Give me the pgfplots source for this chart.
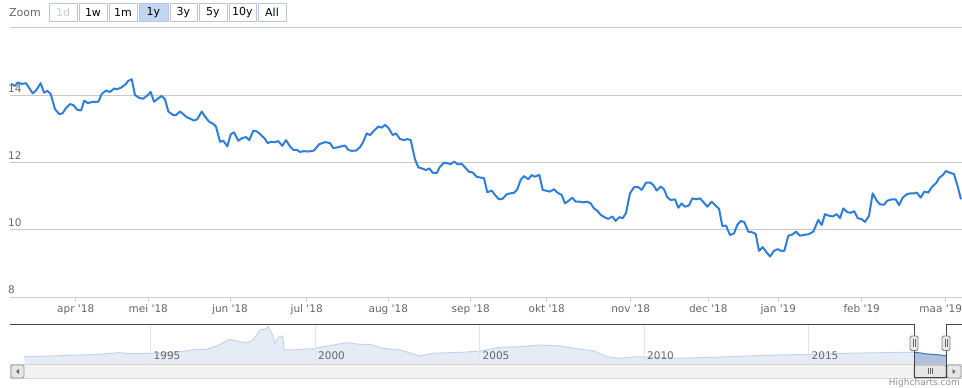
\documentclass[border=0pt]{standalone}
\usepackage{pgfplots}
\usepackage{pgfplotstable}
\pgfplotsset{compat=1.18}
\usepackage{fontspec}
\setmainfont{DejaVu Sans}
\definecolor{hcline}{HTML}{2F7ED8}
\definecolor{hcgrid}{HTML}{C8C8C8}
\definecolor{hcaxis}{HTML}{C0D0E0}
\definecolor{hctext}{HTML}{666666}
\definecolor{navfill}{HTML}{E6ECF5}
\definecolor{navline}{HTML}{C6D3E7}
\definecolor{selfill}{HTML}{AFC1DD}
\definecolor{selline}{HTML}{4572A7}
\definecolor{btnborder}{HTML}{B8C6DA}
\definecolor{btnsel}{HTML}{C3D6F0}
\definecolor{navgrid}{HTML}{E4E4E4}
\definecolor{outl}{HTML}{444444}
\definecolor{credit}{HTML}{909090}
\definecolor{disabled}{HTML}{CCCCCC}
\definecolor{trackdraw}{HTML}{D4D4D4}
\definecolor{trackfill}{HTML}{F3F3F3}
\definecolor{btndraw}{HTML}{999999}
\definecolor{btnfill}{HTML}{E6E6E6}
\definecolor{arrowc}{HTML}{666666}
\definecolor{handledraw}{HTML}{808080}
\definecolor{handlefill}{HTML}{EBE7E8}
\newcommand\q{\textquotesingle}

% main series: x = position on the (ordinal) time axis, y = price
\pgfplotstableread{
x v
11 14.34
15 14.28
17.7 14.38
21.7 14.34
26 14.36
29.3 14.21
32.7 14.06
36 14.14
40.7 14.36
44 14.08
47.3 14.13
50.7 14.04
55 13.59
59.3 13.44
62.7 13.47
66 13.62
70 13.74
73.3 13.71
77.3 13.57
81 13.55
84.3 13.84
87.7 13.77
91.7 13.80
98.3 13.81
101.7 14.04
106 14.14
110 14.10
114 14.20
117.3 14.18
121.7 14.24
126 14.34
128.3 14.43
131.7 14.48
135 14.01
139.3 13.92
143.3 13.90
146.7 13.98
150.7 14.10
154 13.81
158.3 13.91
161.7 13.98
165 13.88
168.3 13.52
172.7 13.42
176 13.41
180 13.52
184 13.42
187.3 13.34
190.7 13.30
194 13.25
197.3 13.29
201.7 13.52
205 13.37
209 13.22
213.3 13.15
216 13.07
220 12.62
223.3 12.65
227.3 12.48
230.7 12.84
234 12.90
238.3 12.65
242.3 12.73
246 12.76
249.3 12.67
253.3 12.95
256.7 12.93
260.7 12.83
264.3 12.73
267.7 12.58
271 12.62
275 12.61
278.3 12.64
282.3 12.50
286 12.67
290 12.48
293.3 12.38
296.7 12.38
300 12.32
304 12.34
308.3 12.33
314 12.36
319.3 12.55
325 12.61
330 12.58
333.3 12.43
338.3 12.46
345 12.51
348.3 12.38
351.7 12.35
356 12.36
360 12.46
363.3 12.62
366.7 12.87
370 12.82
374 12.95
378.3 13.07
381.7 13.04
385 13.12
388.3 13.04
392.7 12.82
396 12.87
400 12.70
404 12.67
407.3 12.70
410.7 12.67
415 12.10
418.3 11.86
421.7 11.83
426 11.78
429.3 11.83
432.7 11.70
436.7 11.69
440 11.88
444 12.00
447.3 11.98
450.7 11.96
454.3 12.03
457.7 11.95
461.7 11.96
465 11.86
469 11.73
472.7 11.71
476.7 11.58
481.7 11.55
484 11.54
487.3 11.12
491.7 11.17
495 11.04
499 10.91
502.7 10.93
506.7 11.06
510.7 11.09
514 11.10
517.3 11.21
520.7 11.49
524 11.60
528.3 11.51
531.7 11.63
535 11.58
539.3 11.64
542.7 11.19
550 11.14
554 11.21
557.3 11.11
561.7 11.04
565 10.79
568.3 10.86
572.3 10.96
575.7 10.84
580 10.84
583.3 10.82
587.3 10.84
590.7 10.79
594 10.64
597.3 10.57
600.7 10.45
605 10.37
608.3 10.33
612.3 10.40
615.7 10.27
619.3 10.38
622.7 10.35
626 10.50
630 11.09
634 11.27
638.3 11.27
641.7 11.19
646 11.41
650 11.41
653.3 11.34
656.7 11.17
660.7 11.29
664 11.21
667.3 10.97
670.7 10.89
675 10.91
678.3 10.66
681.7 10.79
685 10.69
689 10.73
692.3 10.94
696 10.91
700 10.94
704 10.81
707.3 10.69
711.7 10.84
715 10.74
719 10.63
722.3 10.12
726 10.13
730 9.85
734 9.90
737.3 10.15
740.7 10.27
744.3 10.23
748.3 9.95
752.3 9.93
755.7 9.88
759 9.38
762.7 9.49
766.7 9.33
770 9.21
774 9.38
777.7 9.43
781 9.38
784.3 9.38
788.3 9.83
792.7 9.87
796 9.95
800 9.83
805 9.86
808.3 9.87
813.3 9.95
818.3 10.30
821.7 10.15
825 10.47
829.3 10.42
832.7 10.40
836.7 10.47
840 10.35
843.3 10.64
847.3 10.53
850.7 10.51
854.3 10.56
857.7 10.35
861.7 10.32
865 10.24
869 10.42
872.7 11.09
876.7 10.87
880 10.76
884 10.75
887.3 10.87
891.7 10.91
895.7 10.91
899 10.74
902.7 10.96
906.7 11.06
910.7 11.09
914.3 11.09
916.7 11.11
920.7 10.96
924.3 11.14
928.3 11.11
931.7 11.27
936 11.39
939.3 11.55
942.7 11.63
946 11.75
950 11.70
954 11.66
957.7 11.29
961 10.91
}\mainseries

% navigator: full history
\pgfplotstableread{
x v
24.3 9.8
50 10.5
83.3 11.5
100 12.2
118.3 13.8
133.3 12.8
150 13.2
166.7 13.8
183.3 15.2
196.7 17.2
206.7 17.2
216.7 20.5
230 27.2
238.3 24.8
246.7 23.8
253.3 26.5
260 36.5
265 37.2
268.3 39.8
271.7 33.8
275 23.2
278.3 29.2
282.7 30.5
284 16.5
293.3 16.5
303.3 17.2
313.3 17.8
323.3 19.8
333.3 21.5
346.7 23.8
360 22.2
370 22.2
383.3 18.2
400 16.5
420 10.5
433.3 13.2
450 13.8
466.7 14.5
480 15.5
500 19.2
520 19.8
540 21.5
560 20.5
580 17.2
593.3 15.8
606.7 9.8
620 8.2
636.7 9.8
653.3 9.2
680 8.2
713.3 9.2
746.7 10.5
780 11.5
813.3 12.2
846.7 13.2
880 13.8
914 14.3
926.7 12.5
946 10.8
}\navseries

\pgfplotstableread{
x v
914 14.3
920 13.6
926.7 12.5
936 11.9
946 10.8
}\navsel

\begin{document}
\begin{tikzpicture}
\useasboundingbox (0,0) rectangle (962pt,388pt);

% ---------- main chart ----------
\begin{axis}[
  at={(10pt,90.7pt)}, anchor=south west,
  scale only axis, width=952pt, height=269.3pt,
  xmin=10, xmax=962, ymin=8, ymax=16,
  axis line style={draw=none},
  ytick={8,10,12,14,16}, yticklabels={8,10,12,14,{}},
  ymajorgrids, grid style={hcgrid, line width=1pt},
  xtick={75.7,148.3,230,306.7,388.3,470.7,546.7,630.7,708.3,778.3,861.7,945.7},
  xticklabels={apr \q18,mei \q18,jun \q18,jul \q18,aug \q18,sep \q18,okt \q18,nov \q18,dec \q18,jan \q19,feb \q19,{maa \q19\kern10pt}},
  xtick pos=left, ytick pos=left, tick align=outside,
  x tick style={hcaxis, line width=1pt}, major tick length=5pt,
  y tick style={draw=none},
  ticklabel style={font=\fontsize{10.5}{12}\selectfont, text=hctext},
  yticklabel style={anchor=south west, inner sep=0pt, xshift=3pt, yshift=3pt},
  xticklabel style={anchor=north, inner sep=0pt, yshift=-2pt},
  /pgf/number format/assume math mode=true,
]
\addplot[hcline, line width=2pt, line join=round] table[x=x,y=v] {\mainseries};
\end{axis}

% ---------- navigator ----------
\begin{axis}[
  at={(10pt,24pt)}, anchor=south west,
  scale only axis, width=952pt, height=40pt,
  xmin=10, xmax=962, ymin=2.5, ymax=42.5,
  axis on top,
  axis line style={draw=none},
  ytick=\empty,
  xtick={150.5,315,479.5,644,808.5},
  xticklabels={1995,2000,2005,2010,2015},
  xtick pos=left, major tick length=0pt,
  xmajorgrids, grid style={navgrid, line width=1pt},
  xticklabel style={anchor=south west, inner sep=0pt, xshift=3pt, yshift=4pt,
    font=\fontsize{10.5}{12}\selectfont, text=hctext},
]
\addplot[draw=none, fill=navfill] table[x=x,y=v] {\navseries} \closedcycle;
\addplot[navline, line width=1pt] table[x=x,y=v] {\navseries};
\addplot[draw=none, fill=selfill] table[x=x,y=v] {\navsel} \closedcycle;
\addplot[selline, line width=1pt] table[x=x,y=v] {\navsel};
\end{axis}

% ---------- chrome (range selector, axis line, scrollbar) ----------
\begin{scope}[shift={(0pt,388pt)}, x=1pt, y=-1pt]
  \draw[hcaxis, line width=1pt] (10,297.3) -- (962,297.3);
  % range selector
  \node[anchor=west, text=hctext, inner sep=0pt, font=\fontsize{11}{13}\selectfont] at (9,13) {Zoom};
  \foreach \a/\b/\t/\f/\c in {49/77/1d/white/disabled, 79/107/1w/white/black, 109/137/1m/white/black,
      139/168/1y/btnsel/black, 170/197/3y/white/black, 199/227/5y/white/black,
      229/256/10y/white/black, 258/286/All/white/black}{
    \draw[btnborder, fill=\f, line width=0.8pt] (\a,3) rectangle (\b,21);
    \node[text=\c, inner sep=0pt, font=\fontsize{11}{13}\selectfont] at ({(\a+\b)/2},12.3) {\t};
  }
  % scrollbar
  \draw[draw=trackdraw, fill=trackfill, line width=0.8pt] (10,364.5) rectangle (962,378);
  \draw[draw=btndraw, fill=btnfill, rounded corners=1.5pt, line width=0.8pt] (11,365) rectangle (24,378);
  \fill[arrowc] (19,369) -- (19,374) -- (16,371.5) -- cycle;
  \draw[draw=btndraw, fill=btnfill, rounded corners=1.5pt, line width=0.8pt] (947,365) rectangle (961,378);
  \fill[arrowc] (952.5,369) -- (952.5,374) -- (955.5,371.5) -- cycle;
  \draw[draw=btndraw, fill=btnfill, rounded corners=1.5pt, line width=0.8pt] (914,365) rectangle (946,378);
  \foreach \xx in {928,930,932} \draw[arrowc, line width=0.7pt] (\xx,368.5) -- (\xx,374.5);
  % navigator outline
  \draw[outl, line width=1pt] (10,324.5) -- (914,324.5) -- (914,378) -- (946,378) -- (946,324.5) -- (962,324.5);
  % handles
  \foreach \hx in {914,946}{
    \draw[draw=handledraw, fill=handlefill, rounded corners=1.5pt, line width=0.8pt] (\hx-4,336) rectangle (\hx+4,350.5);
    \draw[arrowc, line width=0.6pt] (\hx-1,339.5) -- (\hx-1,347) (\hx+1,339.5) -- (\hx+1,347);
  }
  % credits
  \node[anchor=east, text=credit, inner sep=0pt, font=\fontsize{9}{10}\selectfont] at (960,383) {Highcharts.com};
\end{scope}
\end{tikzpicture}
\end{document}
